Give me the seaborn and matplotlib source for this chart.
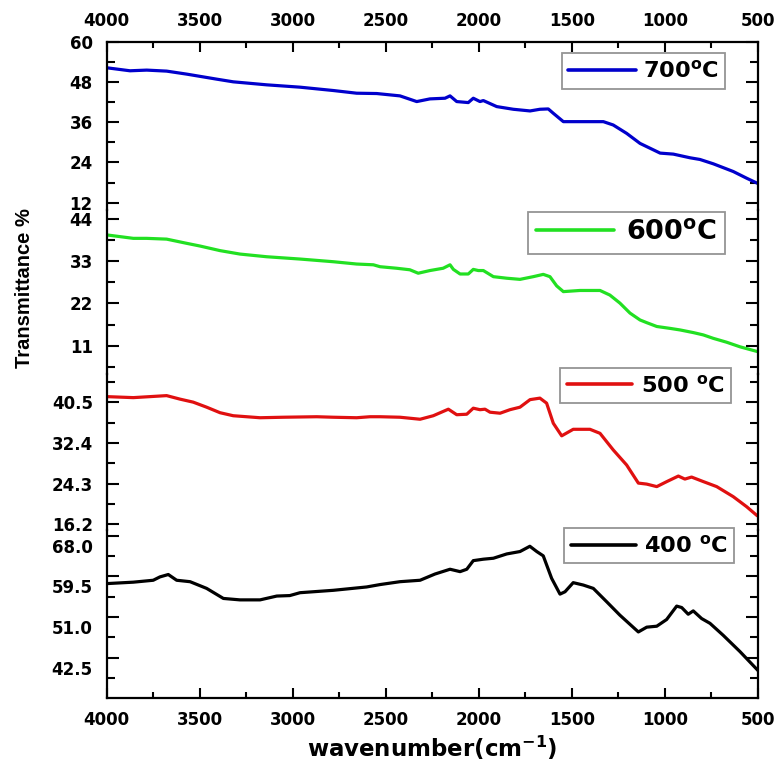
import matplotlib
matplotlib.use("Agg")
import matplotlib.pyplot as plt
import numpy as np
import pandas as pd
import seaborn as sns
from matplotlib.transforms import ScaledTranslation
from matplotlib.ticker import FixedLocator, MultipleLocator, FormatStrFormatter

# ---------------- data ----------------
wn_700 = [4000, 3875, 3785, 3678, 3570, 3409, 3320, 3140, 2961, 2782, 2657, 2549, 2424,
          2334, 2263, 2182, 2155, 2119, 2057, 2030, 1994, 1976, 1904, 1815, 1725, 1672,
          1627, 1600, 1546, 1457, 1331, 1278, 1206, 1134, 1026, 955, 865, 812, 740, 633,
          561, 504]
t_700 = [52.3, 51.4, 51.6, 51.3, 50.4, 48.9, 48.1, 47.2, 46.5, 45.5, 44.7, 44.6, 43.9,
         42.2, 43.0, 43.2, 43.9, 42.2, 41.9, 43.2, 42.2, 42.5, 40.7, 39.9, 39.4, 39.9,
         40.0, 38.7, 36.2, 36.2, 36.2, 35.2, 32.7, 29.7, 26.8, 26.5, 25.4, 24.9, 23.6, 21.3,
         19.3, 17.8]

wn_600 = [4000, 3857, 3785, 3678, 3570, 3499, 3391, 3284, 3140, 2961, 2782, 2657, 2567,
          2531, 2442, 2371, 2326, 2263, 2192, 2155, 2137, 2101, 2057, 2030, 2003, 1976,
          1922, 1851, 1779, 1708, 1654, 1618, 1582, 1546, 1457, 1349, 1296, 1242, 1188,
          1134, 1098, 1044, 972, 919, 847, 794, 740, 669, 597, 499]
t_600 = [39.9, 39.0, 39.0, 38.8, 37.7, 37.0, 35.8, 34.9, 34.2, 33.6, 32.9, 32.3, 32.1,
         31.6, 31.2, 30.8, 29.9, 30.6, 31.2, 32.1, 30.9, 29.7, 29.7, 30.9, 30.6, 30.6,
         29.0, 28.6, 28.3, 29.0, 29.6, 29.0, 26.6, 25.1, 25.4, 25.4, 24.2, 22.1, 19.5,
         17.7, 17.0, 16.0, 15.5, 15.1, 14.4, 13.8, 12.9, 11.9, 10.7, 9.4]

wn_500 = [4000, 3857, 3767, 3678, 3606, 3535, 3463, 3391, 3320, 3176, 3051, 2871, 2782,
          2657, 2585, 2531, 2424, 2316, 2245, 2164, 2119, 2065, 2030, 1994, 1967, 1940,
          1886, 1833, 1779, 1725, 1672, 1636, 1600, 1555, 1493, 1403, 1349, 1278, 1206,
          1143, 1098, 1044, 990, 928, 893, 857, 794, 722, 633, 561, 504]
t_500 = [41.6, 41.4, 41.6, 41.8, 41.1, 40.5, 39.5, 38.4, 37.8, 37.4, 37.5, 37.6, 37.5,
         37.4, 37.6, 37.6, 37.5, 37.1, 37.8, 39.1, 38.0, 38.1, 39.3, 39.0, 39.1, 38.5,
         38.3, 39.0, 39.5, 41.0, 41.3, 40.3, 36.3, 33.8, 35.1, 35.1, 34.3, 31.0, 28.0,
         24.4, 24.2, 23.7, 24.7, 25.8, 25.2, 25.6, 24.7, 23.7, 21.7, 19.7, 17.9]

wn_400 = [4000, 3857, 3750, 3714, 3669, 3624, 3552, 3463, 3373, 3284, 3176, 3086, 3016,
          2961, 2782, 2603, 2531, 2424, 2316, 2236, 2155, 2101, 2065, 2030, 1976, 1922,
          1850, 1779, 1726, 1689, 1654, 1609, 1564, 1537, 1493, 1439, 1385, 1313, 1242,
          1143, 1098, 1044, 991, 937, 910, 875, 848, 803, 758, 687, 597, 499]
t_400 = [58.0, 58.3, 58.7, 59.4, 59.9, 58.7, 58.4, 57.0, 54.9, 54.6, 54.6, 55.4, 55.5,
         56.1, 56.6, 57.3, 57.8, 58.4, 58.7, 60.0, 61.0, 60.5, 61.0, 62.8, 63.1, 63.3,
         64.2, 64.7, 65.8, 64.7, 63.8, 59.1, 55.8, 56.3, 58.2, 57.7, 57.0, 54.2, 51.4,
         47.9, 48.9, 49.1, 50.5, 53.3, 53.0, 51.6, 52.3, 50.7, 49.7, 47.2, 43.8, 39.8]

labels = ["700$^{\\mathbf{o}}$C", "600$^{\\mathbf{o}}$C", "500 $^{\\mathbf{o}}$C", "400 $^{\\mathbf{o}}$C"]
colors = ["#0000CC", "#22E022", "#E01010", "#000000"]
x_ticks = [4000, 3500, 3000, 2500, 2000, 1500, 1000, 500]
y_ticks = [[12, 24, 36, 48, 60], [11, 22, 33, 44], [16.2, 24.3, 32.4, 40.5], [42.5, 51.0, 59.5, 68.0]]

# ---------------- style ----------------
sns.set_style("ticks")
plt.rcParams["font.family"] = ["DejaVu Sans"]
plt.rcParams["font.weight"] = "bold"
plt.rcParams["mathtext.default"] = "bf"
plt.rcParams["axes.linewidth"] = 1.6
for k in ["text.color", "axes.labelcolor", "xtick.color", "ytick.color", "axes.edgecolor"]:
    plt.rcParams[k] = "black"

W, H = 777, 763
fig = plt.figure(figsize=(W / 100, H / 100), dpi=100)
gs = fig.add_gridspec(4, 1, height_ratios=[168, 164, 156, 168], hspace=0,
                      left=106.7 / W, right=758 / W, top=1 - 42 / H, bottom=1 - 698 / H)
axes = [fig.add_subplot(gs[i]) for i in range(4)]
for a in axes[1:]:
    a.sharex(axes[0])

series = [(wn_700, t_700), (wn_600, t_600), (wn_500, t_500), (wn_400, t_400)]
ylims = [(9.8, 60), (3.6, 46.4), (15.07, 46.1), (34.1, 69.2)]
yminor = [6, 5.5, 4.05, 4.25]
yfmt = ["%d", "%d", "%.1f", "%.1f"]

# legend placement (figure fraction centres) and sizes
leg_pos = [(643.3 / W, 1 - 70.8 / H), (626.3 / W, 1 - 232.9 / H),
           (645.8 / W, 1 - 385.3 / H), (649.2 / W, 1 - 545.5 / H)]
leg_fs = [16.2, 19.5, 16.2, 16.2]
leg_hl = [3.0, 2.9, 2.9, 2.9]
leg_tp = [0.3, 0.42, 0.38, 0.32]

for i, ax in enumerate(axes):
    wn, t = series[i]
    df = pd.DataFrame({"wavenumber": wn, "T": t})
    sns.lineplot(data=df, x="wavenumber", y="T", ax=ax, color=colors[i],
                 linewidth=2.3, label=labels[i], sort=False)
    ax.set_xlim(4000, 500)
    ax.set_ylim(*ylims[i])
    ax.set_xlabel("")
    ax.set_ylabel("")
    ax.yaxis.set_major_locator(FixedLocator(y_ticks[i]))
    ax.yaxis.set_minor_locator(MultipleLocator(yminor[i]))
    ax.yaxis.set_major_formatter(FormatStrFormatter(yfmt[i]))
    ax.tick_params(axis="y", which="both", direction="in", left=True, right=True,
                   width=1.5, labelsize=12, pad=10, colors="black")
    ax.tick_params(axis="y", which="major", length=8.5)
    ax.tick_params(axis="y", which="minor", length=5.5)
    ax.xaxis.set_major_locator(FixedLocator(x_ticks))
    ax.xaxis.set_minor_locator(MultipleLocator(250))
    ax.tick_params(axis="x", which="both", direction="in", width=1.5, labelsize=12, pad=9,
                   colors="black")
    ax.tick_params(axis="x", which="major", length=7)
    ax.tick_params(axis="x", which="minor", length=4)
    for s in ax.spines.values():
        s.set_linewidth(1.6)
        s.set_color("black")
    if i == 0:
        ax.tick_params(axis="x", which="both", top=True, bottom=False,
                       labeltop=True, labelbottom=False)
        ax.spines["bottom"].set_visible(False)
    elif i == 3:
        ax.tick_params(axis="x", which="both", top=False, bottom=True,
                       labeltop=False, labelbottom=True)
        ax.spines["top"].set_visible(False)
    else:
        ax.tick_params(axis="x", which="both", top=False, bottom=False,
                       labeltop=False, labelbottom=False)
        ax.spines["top"].set_visible(False)
        ax.spines["bottom"].set_visible(False)
    ax.patch.set_alpha(0)

    leg = ax.legend(loc="center", bbox_to_anchor=leg_pos[i], bbox_transform=fig.transFigure,
                    frameon=True, fancybox=False, shadow=False,
                    handlelength=leg_hl[i], handletextpad=leg_tp[i], borderpad=0.3,
                    prop={"weight": "bold", "size": leg_fs[i]})
    leg.get_frame().set_edgecolor("#7a7a7a")
    leg.get_frame().set_linewidth(1.3)
    for txt in leg.get_texts():
        txt.set_color("black")
    for ln in leg.get_lines():
        ln.set_linewidth(2.6)

# bottom panel: tick labels sit ~10 px below their ticks in the reference
off = ScaledTranslation(0, -10 / 100, fig.dpi_scale_trans)
for lab in axes[3].get_yticklabels():
    lab.set_transform(lab.get_transform() + off)

fig.text(25 / W, 1 - 288 / H, "Transmittance %", rotation=90, ha="center", va="center",
         fontsize=14.5, fontweight="bold", family=["Liberation Sans", "DejaVu Sans"])
fig.text(432.3 / W, 1 - 757 / H, "wavenumber(cm$^{\\mathbf{-1}}$)", ha="center",
         va="baseline", fontsize=16.5, fontweight="bold")

fig.savefig("out.png", dpi=100, facecolor="white")
